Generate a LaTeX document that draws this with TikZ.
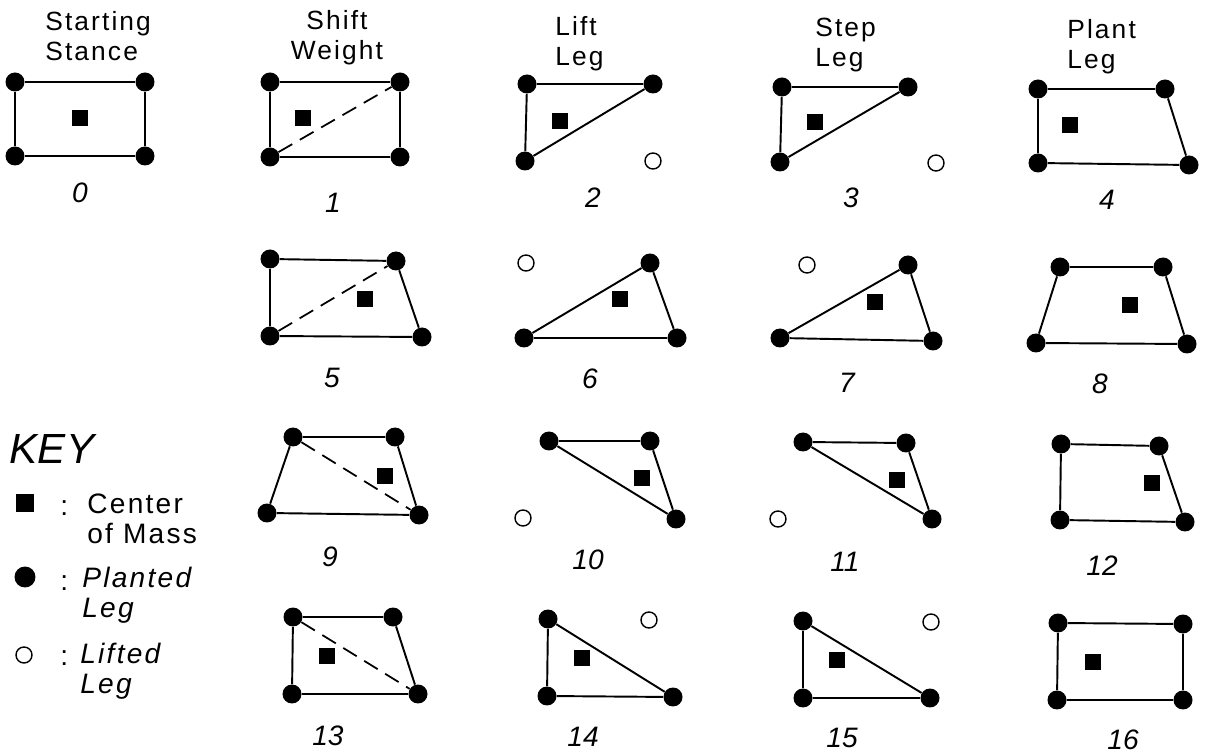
\documentclass[tikz,border=0pt]{standalone}
\usepackage{fontspec}
\setmainfont{Liberation Sans}
\newfontfamily\handfont[LetterSpace=8]{Liberation Sans}
\usepackage{tikz}
\usetikzlibrary{positioning}

\begin{document}
\begin{tikzpicture}[x=0.02cm, y=-0.02cm,
  planted/.style={circle, fill=black, inner sep=0pt, minimum size=0.38cm},
  lifted/.style={circle, draw=black, line width=0.8pt, fill=white, inner sep=0pt, minimum size=0.32cm},
  com/.style={rectangle, fill=black, inner sep=0pt, minimum size=0.32cm},
  rim/.style={line width=1.1pt},
  weightline/.style={line width=1pt, dash pattern=on 9pt off 5pt},
  heading/.style={font=\handfont\fontsize{15}{17}\selectfont, align=left, inner sep=0pt},
  stepno/.style={font=\itshape\fontsize{16}{16}\selectfont, inner sep=0pt},
  keytext/.style={font=\handfont\fontsize{16}{17}\selectfont, align=left, inner sep=0pt, anchor=west},
  keyital/.style={keytext, font=\handfont\itshape\fontsize{16}{17}\selectfont},
]

\useasboundingbox (0,0) rectangle (1207,756);

% Column headings
\node[heading, anchor=west] (hstart) at (45,36) {Starting\\Stance};
\node[heading, align=center] (hshift) at (337,38) {Shift\\Weight};
\node[heading, anchor=west] (hlift) at (555,44) {Lift\\Leg};
\node[heading, anchor=west] (hstep) at (815,45) {Step\\Leg};
\node[heading, anchor=west] (hplant) at (1067,47) {Plant\\Leg};

% Step 0
\node[planted] (s0a) at (15,82) {};
\node[planted] (s0b) at (145,82) {};
\node[planted] (s0c) at (15,156) {};
\node[planted] (s0d) at (145,156) {};
\node[com] (s0m) at (80,118) {};
\draw[rim] (s0a) -- (s0b) -- (s0d) -- (s0c) -- (s0a);

% Step 1
\node[planted] (s1a) at (270,82) {};
\node[planted] (s1b) at (400,82) {};
\node[planted] (s1c) at (270,157) {};
\node[planted] (s1d) at (400,157) {};
\node[com] (s1m) at (303,118) {};
\draw[rim] (s1a) -- (s1b) -- (s1d) -- (s1c) -- (s1a);
\draw[weightline] (s1c) -- (s1b);

% Step 2
\node[planted] (s2a) at (527,84) {};
\node[planted] (s2b) at (653,84) {};
\node[planted] (s2c) at (525,161) {};
\node[lifted] (s2d) at (653,161) {};
\node[com] (s2m) at (560,121) {};
\draw[rim] (s2a) -- (s2b) -- (s2c) -- (s2a);

% Step 3
\node[planted] (s3a) at (782,87) {};
\node[planted] (s3b) at (908,87) {};
\node[planted] (s3c) at (780,162) {};
\node[lifted] (s3d) at (936,163) {};
\node[com] (s3m) at (815,122) {};
\draw[rim] (s3a) -- (s3b) -- (s3c) -- (s3a);

% Step 4
\node[planted] (s4a) at (1038,89) {};
\node[planted] (s4b) at (1165,89) {};
\node[planted] (s4c) at (1038,163) {};
\node[planted] (s4d) at (1189,165) {};
\node[com] (s4m) at (1070,125) {};
\draw[rim] (s4a) -- (s4b) -- (s4d) -- (s4c) -- (s4a);

% Step 5
\node[planted] (s5a) at (270,259) {};
\node[planted] (s5b) at (396,261) {};
\node[planted] (s5c) at (270,336) {};
\node[planted] (s5d) at (422,337) {};
\node[com] (s5m) at (365,299) {};
\draw[rim] (s5a) -- (s5b) -- (s5d) -- (s5c) -- (s5a);
\draw[weightline] (s5c) -- (s5b);

% Step 6
\node[lifted] (s6a) at (526,263) {};
\node[planted] (s6b) at (650,263) {};
\node[planted] (s6c) at (524,338) {};
\node[planted] (s6d) at (677,338) {};
\node[com] (s6m) at (620,299) {};
\draw[rim] (s6c) -- (s6b) -- (s6d) -- (s6c);

% Step 7
\node[lifted] (s7a) at (807,265) {};
\node[planted] (s7b) at (908,265) {};
\node[planted] (s7c) at (780,338) {};
\node[planted] (s7d) at (933,341) {};
\node[com] (s7m) at (875,302) {};
\draw[rim] (s7c) -- (s7b) -- (s7d) -- (s7c);

% Step 8
\node[planted] (s8a) at (1060,267) {};
\node[planted] (s8b) at (1163,267) {};
\node[planted] (s8c) at (1036,343) {};
\node[planted] (s8d) at (1187,344) {};
\node[com] (s8m) at (1130,305) {};
\draw[rim] (s8a) -- (s8b) -- (s8d) -- (s8c) -- (s8a);

% Step 9
\node[planted] (s9a) at (293,437) {};
\node[planted] (s9b) at (395,437) {};
\node[planted] (s9c) at (267,513) {};
\node[planted] (s9d) at (419,515) {};
\node[com] (s9m) at (385,476) {};
\draw[rim] (s9a) -- (s9b) -- (s9d) -- (s9c) -- (s9a);
\draw[weightline] (s9a) -- (s9d);

% Step 10
\node[planted] (s10a) at (549,441) {};
\node[planted] (s10b) at (650,441) {};
\node[lifted] (s10c) at (523,518) {};
\node[planted] (s10d) at (676,519) {};
\node[com] (s10m) at (642,478) {};
\draw[rim] (s10a) -- (s10b) -- (s10d) -- (s10a);

% Step 11
\node[planted] (s11a) at (803,442) {};
\node[planted] (s11b) at (906,443) {};
\node[lifted] (s11c) at (778,519) {};
\node[planted] (s11d) at (932,519) {};
\node[com] (s11m) at (897,480) {};
\draw[rim] (s11a) -- (s11b) -- (s11d) -- (s11a);

% Step 12
\node[planted] (s12a) at (1061,444) {};
\node[planted] (s12b) at (1159,446) {};
\node[planted] (s12c) at (1060,520) {};
\node[planted] (s12d) at (1185,522) {};
\node[com] (s12m) at (1152,483) {};
\draw[rim] (s12a) -- (s12b) -- (s12d) -- (s12c) -- (s12a);

% Step 13
\node[planted] (s13a) at (293,617) {};
\node[planted] (s13b) at (393,617) {};
\node[planted] (s13c) at (292,694) {};
\node[planted] (s13d) at (418,694) {};
\node[com] (s13m) at (327,656) {};
\draw[rim] (s13a) -- (s13b) -- (s13d) -- (s13c) -- (s13a);
\draw[weightline] (s13a) -- (s13d);

% Step 14
\node[planted] (s14a) at (548,619) {};
\node[lifted] (s14b) at (649,620) {};
\node[planted] (s14c) at (547,696) {};
\node[planted] (s14d) at (673,697) {};
\node[com] (s14m) at (582,658) {};
\draw[rim] (s14a) -- (s14c) -- (s14d) -- (s14a);

% Step 15
\node[planted] (s15a) at (803,621) {};
\node[lifted] (s15b) at (931,622) {};
\node[planted] (s15c) at (803,698) {};
\node[planted] (s15d) at (930,698) {};
\node[com] (s15m) at (837,660) {};
\draw[rim] (s15a) -- (s15c) -- (s15d) -- (s15a);

% Step 16
\node[planted] (s16a) at (1058,623) {};
\node[planted] (s16b) at (1183,624) {};
\node[planted] (s16c) at (1057,700) {};
\node[planted] (s16d) at (1183,700) {};
\node[com] (s16m) at (1093,662) {};
\draw[rim] (s16a) -- (s16b) -- (s16d) -- (s16c) -- (s16a);

% Step numbers
\node[stepno] (n0) at (80,193) {0};
\node[stepno] (n1) at (333,203) {1};
\node[stepno] (n2) at (593,198) {2};
\node[stepno] (n3) at (851,198) {3};
\node[stepno] (n4) at (1107,200) {4};
\node[stepno] (n5) at (332,378) {5};
\node[stepno] (n6) at (590,379) {6};
\node[stepno] (n7) at (847,383) {7};
\node[stepno] (n8) at (1100,384) {8};
\node[stepno] (n9) at (330,557) {9};
\node[stepno] (n10) at (588,560) {10};
\node[stepno] (n11) at (845,562) {11};
\node[stepno] (n12) at (1102,566) {12};
\node[stepno] (n13) at (328,736) {13};
\node[stepno] (n14) at (583,737) {14};
\node[stepno] (n15) at (842,738) {15};
\node[stepno] (n16) at (1123,740) {16};

% Key
\node[font=\itshape\fontsize{24}{24}\selectfont, inner sep=0pt] (key) at (52,449) {KEY};
\node[com, minimum size=0.36cm] (keycom) at (25,503) {};
\node[keytext] (keycolA) at (60,508) {:};
\node[keytext] (keycomtext) at (87,519) {Center\\of Mass};
\node[planted, minimum size=0.42cm] (keyplanted) at (25,577) {};
\node[keytext] (keycolB) at (60,583) {:};
\node[keyital] (keyplantedtext) at (82,595) {Planted\\Leg};
\node[lifted] (keylifted) at (24,655) {};
\node[keytext] (keycolC) at (60,658) {:};
\node[keyital] (keyliftedtext) at (80,671) {Lifted\\Leg};

\end{tikzpicture}
\end{document}
